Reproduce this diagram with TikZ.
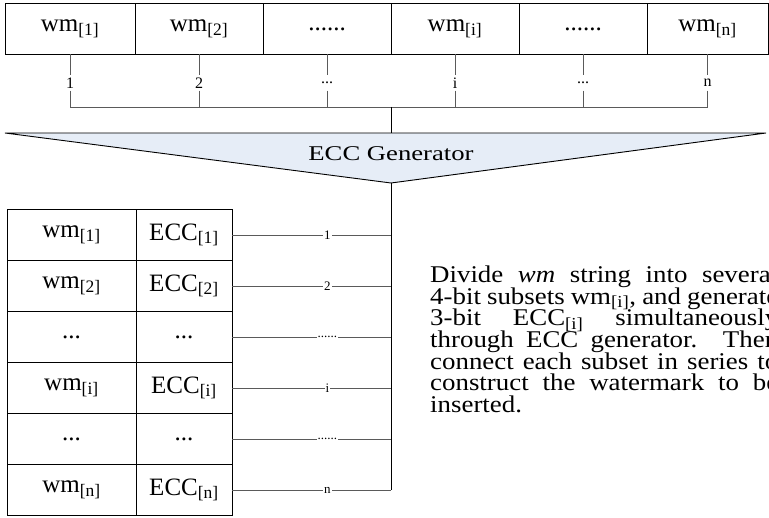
\documentclass[tikz,border=0pt]{standalone}
\usepackage{fontspec}
\setmainfont{Liberation Serif}
\newfontfamily\genfont[FakeStretch=1.27]{Liberation Serif}
\newfontfamily\notefont[FakeStretch=1.12]{Liberation Serif}
\usetikzlibrary{positioning}
\definecolor{genfill}{HTML}{E6EDF7}
\definecolor{wiregray}{HTML}{5A5A5A}
\newcommand{\idx}[1]{\textsubscript{[#1]}}
\tikzset{
  cell/.style={draw,line width=0.9pt,minimum height=51pt,inner sep=0pt,outer sep=0pt,
    font=\fontsize{25}{30}\selectfont},
  topcell/.style={cell,minimum width=128pt},
  wmcell/.style={cell,minimum width=129pt},
  ecccell/.style={cell,minimum width=96pt},
  wire/.style={draw=wiregray,line width=0.8pt},
  trunk/.style={draw=black,line width=0.9pt},
  tick/.style={inner sep=0pt,minimum height=15pt,font=\fontsize{16}{18}\selectfont},
  lbl/.style={fill=white,inner sep=1pt,font=\fontsize{13}{14}\selectfont},
}

\begin{document}
\begin{tikzpicture}[x=1pt,y=-1pt]
\useasboundingbox (0,0) rectangle (769,518);
% watermark string
\node[topcell,minimum width=130pt] (w1) at (70,29) {wm\idx{1}};
\node[topcell,right=0pt of w1] (w2) {wm\idx{2}};
\node[topcell,right=0pt of w2] (w3) {......};
\node[topcell,right=0pt of w3] (w4) {wm\idx{i}};
\node[topcell,right=0pt of w4] (w5) {......};
\node[topcell,minimum width=121pt,right=0pt of w5] (w6) {wm\idx{n}};
\coordinate (tickrow) at (0,83);
\coordinate (bus) at (0,107);
\foreach \k/\t in {1/1,2/2,3/{...},4/i,5/{...},6/n}{
  \node[tick] (t\k) at (w\k.south |- tickrow) {\t};
  \draw[wire] (w\k.south) -- (t\k) -- (t\k |- bus);
}
\draw[wire] (t1 |- bus) -- (t6 |- bus);
% generator
\coordinate (gl) at (5,133);
\coordinate (gr) at (766,133);
\coordinate (gap) at (391,183);
\draw[trunk,fill=genfill] (gl) -- (gr) -- (gap) -- cycle;
\node[font=\genfont\fontsize{21}{24}\selectfont] (gen) at (391,154) {ECC Generator};
\draw[trunk] (gap |- bus) -- (gap |- gl);
% subsets with ECC
\node[wmcell] (m1) at (71.5,235) {wm\idx{1}};
\node[ecccell,right=0pt of m1] (e1) {ECC\idx{1}};
\node[wmcell,below=0pt of m1] (m2) {wm\idx{2}};
\node[ecccell,right=0pt of m2] (e2) {ECC\idx{2}};
\node[wmcell,below=0pt of m2] (m3) {...};
\node[ecccell,right=0pt of m3] (e3) {...};
\node[wmcell,below=0pt of m3] (m4) {wm\idx{i}};
\node[ecccell,right=0pt of m4] (e4) {ECC\idx{i}};
\node[wmcell,below=0pt of m4] (m5) {...};
\node[ecccell,right=0pt of m5] (e5) {...};
\node[wmcell,below=0pt of m5] (m6) {wm\idx{n}};
\node[ecccell,right=0pt of m6] (e6) {ECC\idx{n}};
\foreach \k/\t in {1/1,2/2,3/{......},4/i,5/{......},6/n}
  \draw[wire] (e\k.east) -- node[lbl,pos=0.6]{\t} (e\k.east -| gap);
\draw[trunk] (gap) -- (e6.east -| gap);
% note
\node[anchor=north west,inner sep=0pt,text width=348pt,align=justify,
  font={\notefont\fontsize{24}{21.7}\selectfont\lineskiplimit=-30pt}] (note) at (430,265.5)
  {Divide \textit{wm} string into several\linebreak
   4-bit subsets wm\idx{i}, and generate\linebreak
   3-bit ECC\idx{i} simultaneously\linebreak
   through ECC generator. Then\linebreak
   connect each subset in series to\linebreak
   construct the watermark to be\linebreak
   inserted.};
\end{tikzpicture}
\end{document}
